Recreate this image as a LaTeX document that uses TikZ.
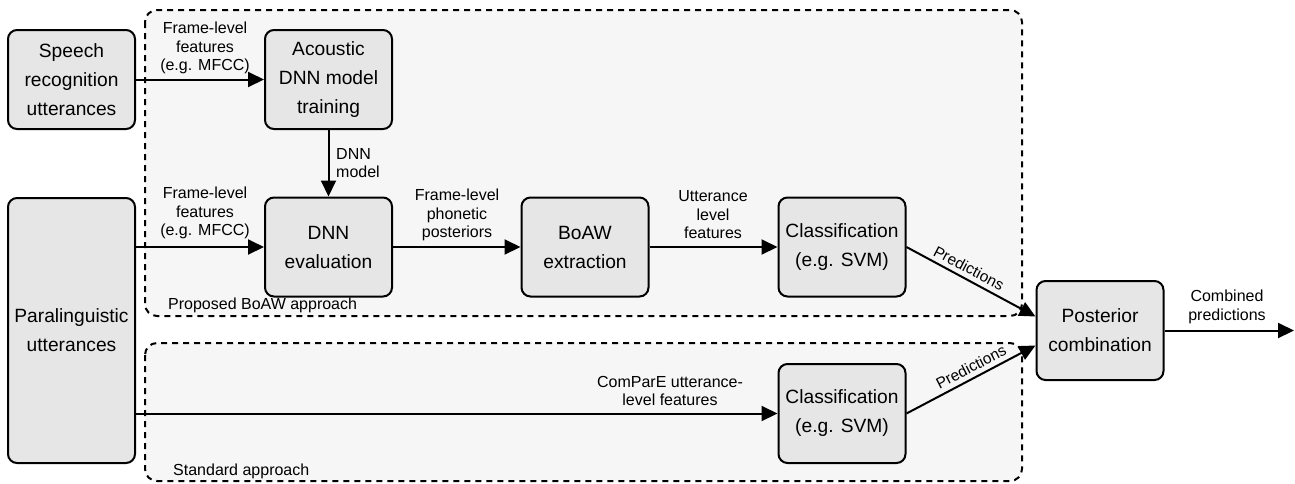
\documentclass[tikz,border=0pt]{standalone}
\usepackage{fontspec}
\setmainfont{Liberation Sans}
\usetikzlibrary{arrows.meta,calc}
\definecolor{boxfill}{RGB}{230,230,230}
\definecolor{grpfill}{RGB}{246,246,246}
\tikzset{
  box/.style={draw, line width=2pt, rounded corners=9pt, fill=boxfill,
    minimum width=127pt, minimum height=99pt, align=center, inner sep=0pt,
    font=\fontsize{19.2}{29}\selectfont},
  lbl/.style={align=center, inner sep=0pt, font=\fontsize{16}{18.5}\selectfont},
  arr/.style={line width=2pt, -{Triangle[length=16pt,width=15pt]}},
  grp/.style={draw, dash pattern=on 6pt off 5pt, line width=2pt,
    rounded corners=12pt, fill=grpfill},
}
\begin{document}
\begin{tikzpicture}[x=1pt,y=-1pt]
\useasboundingbox (0,0) rectangle (1295,483);
% groups
\draw[grp] (145,10) rectangle (1022,316);
\draw[grp] (145,343) rectangle (1022,481);
\node[lbl, anchor=base west] (gp) at (168,309) {Proposed BoAW approach};
\node[lbl, anchor=base west] (gs) at (173,475) {Standard approach};
% boxes
\node[box] (speech) at (71.5,79.5) {Speech\\recognition\\utterances};
\node[box] (acoustic) at (328.5,79.5) {Acoustic\\DNN model\\training};
\node[box] (dnneval) at (328.5,247) {DNN\\evaluation};
\node[box] (boaw) at (585,247) {BoAW\\extraction};
\node[box] (cls1) at (842,247) {Classification\\(e.g. SVM)};
\node[box, minimum height=265pt] (para) at (71.5,330.5) {Paralinguistic\\utterances};
\node[box] (cls2) at (842,413.5) {Classification\\(e.g. SVM)};
\node[box] (post) at (1100,330.5) {Posterior\\combination};
\coordinate (out) at (1294,330.5);
% connectors
\draw[arr] (speech) -- (acoustic);
\draw[arr] (acoustic) -- (dnneval);
\draw[arr] (para.east |- dnneval.west) -- (dnneval.west);
\draw[arr] (dnneval) -- (boaw);
\draw[arr] (boaw) -- (cls1);
\draw[arr] (para.east |- cls2.west) -- (cls2.west);
\draw[arr] (cls1.east) -- ([yshift=14pt]post.west);
\draw[arr] (cls2.east) -- ([yshift=-15pt]post.west);
\draw[arr] (post) -- (out);
% labels
\node[lbl, rotate=-27.6, font=\fontsize{15.5}{18}\selectfont] (p1) at (969,268) {Predictions};
\node[lbl, rotate=27.4, font=\fontsize{15.5}{18}\selectfont] (p2) at (971,367) {Predictions};
\node[lbl] (l1) at (205,48) {Frame-level\\features\\(e.g. MFCC)};
\node[lbl, align=left, anchor=west] (l2) at (336,163) {DNN\\model};
\node[lbl] (l3) at (205,213) {Frame-level\\features\\(e.g. MFCC)};
\node[lbl] (l4) at (457,215) {Frame-level\\phonetic\\posteriors};
\node[lbl] (l5) at (713,215) {Utterance\\level\\features};
\node[lbl] (l6) at (670,391) {ComParE utterance-\\level features};
\node[lbl] (l7) at (1227,307) {Combined\\predictions};
\end{tikzpicture}
\end{document}
